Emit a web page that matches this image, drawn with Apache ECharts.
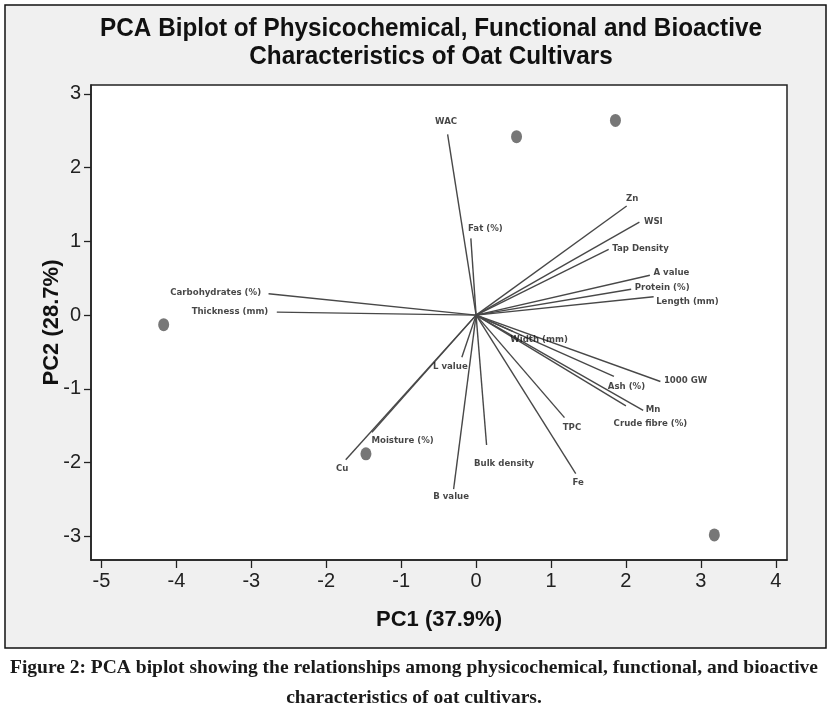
<!DOCTYPE html>
<html>
<head>
<meta charset="utf-8">
<script src="https://cdn.jsdelivr.net/npm/echarts@6/dist/echarts.min.js"></script>
<style>
  html, body { margin: 0; padding: 0; background: #fff; }
  #main { width: 832px; height: 715px; }
</style>
</head>
<body>
<div id="main"></div>
<script>
// loading vectors (PC1, PC2)
var vectorNames = ['WAC', 'Fat (%)', 'Zn', 'WSI', 'Tap Density', 'A value', 'Protein (%)', 'Length (mm)',
    'Width (mm)', '1000 GW', 'Ash (%)', 'Mn', 'Crude fibre (%)', 'TPC', 'Fe', 'Bulk density',
    'Carbohydrates (%)', 'Thickness (mm)', 'L value', 'Moisture (%)', 'Cu', 'B value'];
var vectorPC1 = [-0.38, -0.07, 2.01, 2.18, 1.77, 2.32, 2.07, 2.37,
    0.49, 2.46, 1.84, 2.23, 2.00, 1.18, 1.33, 0.14,
    -2.77, -2.66, -0.19, -1.39, -1.74, -0.30];
var vectorPC2 = [2.45, 1.04, 1.48, 1.26, 0.89, 0.54, 0.35, 0.25,
    -0.22, -0.90, -0.83, -1.29, -1.23, -1.39, -2.15, -1.76,
    0.29, 0.04, -0.57, -1.59, -1.96, -2.36];

// cultivar scores
var scorePC1 = [0.54, 1.86, -4.17, -1.47, 3.18];
var scorePC2 = [2.42, 2.64, -0.13, -1.88, -2.98];

var xTicks = [-5, -4, -3, -2, -1, 0, 1, 2, 3, 4];
var yTicks = [-3, -2, -1, 0, 1, 2, 3];

// where each vector label sits relative to its arrow tip: [align, dx, dy]
var labelPlace = {
    'WAC': ['center', -1, -12],
    'Fat (%)': ['center', 15, -9],
    'Zn': ['center', 6, -7],
    'WSI': ['left', 5, 0],
    'Tap Density': ['left', 4, 0],
    'A value': ['left', 4, -2],
    'Protein (%)': ['left', 4, -1],
    'Length (mm)': ['left', 3, 6],
    'Width (mm)': ['left', -2, 9],
    '1000 GW': ['left', 4, 0],
    'Ash (%)': ['center', 13, 11],
    'Mn': ['left', 3, 0],
    'Crude fibre (%)': ['center', 25, 18],
    'TPC': ['center', 8, 11],
    'Fe': ['center', 3, 10],
    'Bulk density': ['center', 18, 19],
    'Carbohydrates (%)': ['right', -7, 0],
    'Thickness (mm)': ['right', -8, 0],
    'L value': ['center', -11, 10],
    'Moisture (%)': ['left', 0, 9],
    'Cu': ['center', -3, 10],
    'B value': ['center', -2, 8]
};

var chart = echarts.init(document.getElementById('main'));

var series = [];
for (var i = 0; i < vectorNames.length; i++) {
    series.push({
        type: 'line',
        data: [[0, 0], [vectorPC1[i], vectorPC2[i]]],
        symbol: 'none',
        silent: true,
        lineStyle: { color: '#484848', width: 1.4 },
        z: 2
    });
}

var tipData = vectorNames.map(function(name, i) {
    var p = labelPlace[name];
    return {
        value: [vectorPC1[i], vectorPC2[i]],
        label: {
            show: true,
            formatter: name,
            position: [p[1], p[2]],
            align: p[0],
            verticalAlign: 'middle'
        }
    };
});
series.push({
    type: 'scatter',
    data: tipData,
    symbolSize: 1,
    itemStyle: { color: 'transparent' },
    label: {
        color: '#161616',
        fontFamily: 'DejaVu Sans',
        fontWeight: 'bold',
        fontSize: 8.6
    },
    silent: true,
    z: 4
});

series.push({
    type: 'scatter',
    data: scorePC1.map(function(v, i) { return [v, scorePC2[i]]; }),
    symbol: 'circle',
    symbolSize: [11, 13],
    itemStyle: { color: '#555555' },
    z: 5
});

var axisFont = { fontFamily: 'Liberation Sans', fontSize: 20, color: '#222' };

chart.setOption({
    animation: false,
    backgroundColor: '#ffffff',
    graphic: [
        {
            type: 'rect',
            z: -100,
            shape: { x: 5, y: 5, width: 821, height: 643 },
            style: { fill: '#f0f0f0', stroke: '#111', lineWidth: 1.5 }
        },
        {
            type: 'text',
            x: 431, y: 15,
            scaleX: 0.935,
            style: {
                text: 'PCA Biplot of Physicochemical, Functional and Bioactive\nCharacteristics of Oat Cultivars',
                align: 'center',
                font: 'bold 26px "Liberation Sans", sans-serif',
                lineHeight: 28,
                fill: '#111'
            }
        },
        {
            type: 'text',
            x: 414, y: 653,
            style: {
                text: 'Figure 2: PCA biplot showing the relationships among physicochemical, functional, and bioactive\ncharacteristics of oat cultivars.',
                align: 'center',
                font: 'bold 19.5px "Liberation Serif", serif',
                lineHeight: 30,
                fill: '#1a1a1a'
            }
        }
    ],
    grid: {
        left: 91, right: 45, top: 85, bottom: 155,
        show: true,
        backgroundColor: '#ffffff',
        borderColor: '#222',
        borderWidth: 1.5
    },
    xAxis: {
        type: 'value',
        min: -5.14, max: 4.15,
        name: 'PC1 (37.9%)',
        nameLocation: 'middle',
        nameGap: 49,
        nameMoveOverlap: false,
        nameTextStyle: { fontFamily: 'Liberation Sans', fontWeight: 'bold', fontSize: 22, color: '#111' },
        axisLine: { show: true, onZero: false, lineStyle: { color: '#222', width: 1.5 } },
        axisTick: { show: true, customValues: xTicks, length: 8, lineStyle: { color: '#222', width: 1.3 } },
        axisLabel: Object.assign({ customValues: xTicks, margin: 11 }, axisFont),
        splitLine: { show: false }
    },
    yAxis: {
        type: 'value',
        min: -3.32, max: 3.12,
        name: 'PC2 (28.7%)',
        nameLocation: 'middle',
        nameGap: 28,
        nameMoveOverlap: false,
        nameTextStyle: { fontFamily: 'Liberation Sans', fontWeight: 'bold', fontSize: 22, color: '#111' },
        axisLine: { show: true, onZero: false, lineStyle: { color: '#222', width: 1.5 } },
        axisTick: { show: true, customValues: yTicks, length: 7, lineStyle: { color: '#222', width: 1.3 } },
        axisLabel: Object.assign({ customValues: yTicks, margin: 10 }, axisFont),
        splitLine: { show: false }
    },
    series: series
});
</script>
</body>
</html>
